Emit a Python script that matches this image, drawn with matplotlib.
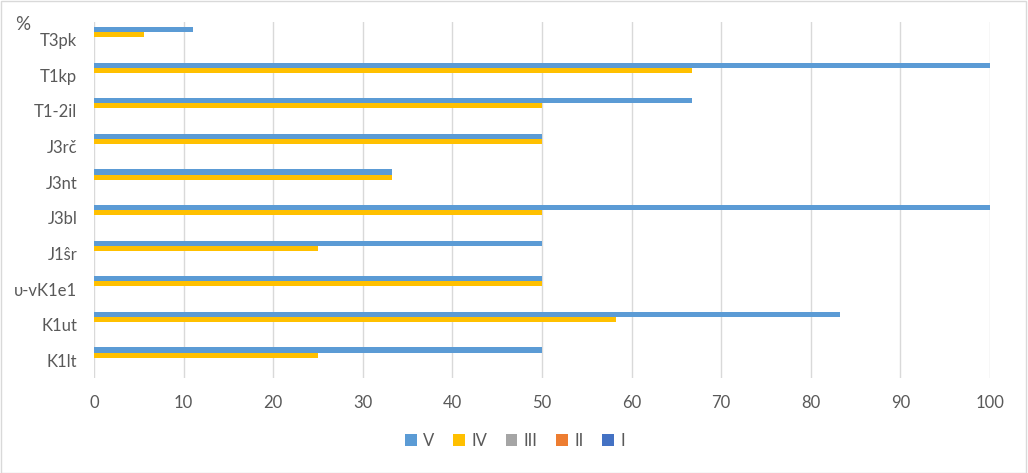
import matplotlib.pyplot as plt
import numpy as np
from matplotlib.patches import Rectangle

categories = ["T3pk", "T1kp", "T1-2il", "J3rč", "J3nt", "J3bl", "J1ŝr", "υ-vK1e1", "K1ut", "K1lt"]
series_names = ["V", "IV", "III", "II", "I"]
v_vals = [11.1, 100, 66.7, 50, 33.3, 100, 50, 50, 83.3, 50]
iv_vals = [5.6, 66.7, 50, 50, 33.3, 50, 25, 50, 58.3, 25]
iii_vals = [0] * 10
ii_vals = [0] * 10
i_vals = [0] * 10
xticks = list(range(0, 101, 10))

colors = ["#5B9BD5", "#FFC000", "#A5A5A5", "#ED7D31", "#4472C4"]
text_color = "#595959"

plt.rcParams['font.family'] = ['Lato', 'DejaVu Sans']

fig = plt.figure(figsize=(10.28, 4.73), dpi=100)
ax = fig.add_axes([94 / 1028, 1 - 378 / 473, (990 - 94) / 1028, (378 - 22) / 473])

y = np.arange(len(categories))
h = 0.144
all_vals = [v_vals, iv_vals, iii_vals, ii_vals, i_vals]
for j, (name, vals) in enumerate(zip(series_names, all_vals)):
    ax.barh(y + (j - 2) * h, vals, height=h, color=colors[j], label=name, zorder=3)

ax.set_ylim(len(categories) - 0.5, -0.5)
ax.set_xlim(0, 100)
ax.set_xticks(xticks)
ax.set_yticks(y)
ax.set_yticklabels(categories)
ax.tick_params(axis='both', length=0, labelsize=12, colors=text_color)
ax.tick_params(axis='x', pad=12)
ax.tick_params(axis='y', pad=12)
ax.grid(axis='x', color='#D9D9D9', linewidth=1, zorder=0)
for s in ax.spines.values():
    s.set_visible(False)

fig.text(15 / 1028, 1 - 24 / 473, "%", fontsize=13.5, color=text_color, va='center')

leg = fig.legend(loc='center', bbox_to_anchor=(515 / 1028, 1 - 441 / 473), ncol=5,
                 frameon=False, fontsize=12, handlelength=0.7, handleheight=0.7,
                 columnspacing=1.1, handletextpad=0.4)
for t in leg.get_texts():
    t.set_color(text_color)

fig.patches.append(Rectangle((0.001, 0.001), 0.997, 0.997, transform=fig.transFigure,
                             fill=False, edgecolor='#D9D9D9', linewidth=1))

fig.savefig("out.png", dpi=100)
